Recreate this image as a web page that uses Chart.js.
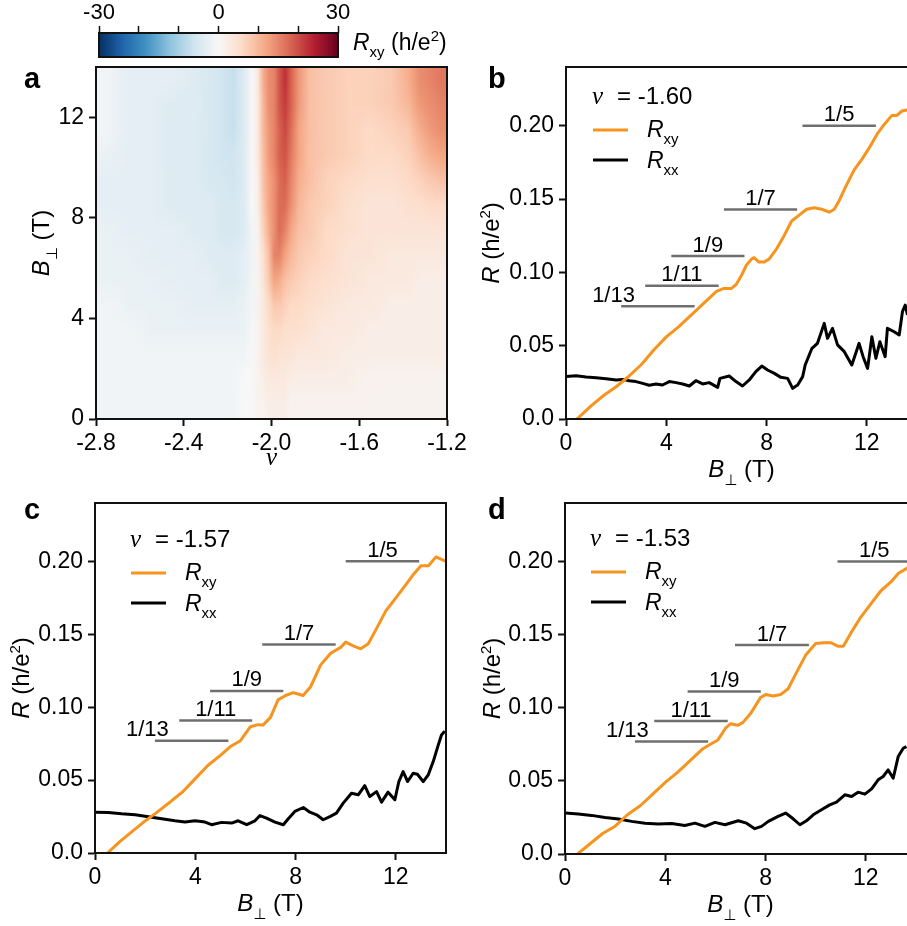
<!DOCTYPE html>
<html>
<head>
    <title>Rxy map and field sweeps</title>
    <script src="https://cdn.jsdelivr.net/npm/chart.js"></script>
    <style>
        html, body { margin: 0; padding: 0; background: #fff; overflow: hidden; width: 907px; height: 926px; }
        canvas { position: absolute; }
    </style>
</head>
<body>
    <canvas id="cbar" width="470" height="66" style="left:0px;top:0px"></canvas>
    <canvas id="mapA" width="475" height="440" style="left:0px;top:47px"></canvas>
    <canvas id="chartB" width="470" height="440" style="left:470px;top:47px"></canvas>
    <canvas id="chartC" width="475" height="443" style="left:0px;top:483px"></canvas>
    <canvas id="chartD" width="470" height="443" style="left:470px;top:483px"></canvas>

    <script>
        // ---- colour bar ----
        const cbarTicks = [-30, -20, -10, 0, 10, 20, 30];
        const cbarLabels = [-30, 0, 30];

        // ---- panel a : Rxy map, rows are B bands (bottom to top), columns are nu bands ----
        const nuEdges = [-2.8, -2.7, -2.6, -2.5, -2.4, -2.3, -2.25, -2.2, -2.15, -2.1, -2.075, -2.05, -2.025, -2.0,
                         -1.975, -1.95, -1.925, -1.9, -1.85, -1.8, -1.7, -1.6, -1.5, -1.4, -1.35, -1.3, -1.25, -1.2];
        const bEdges = [0, 1, 2, 3, 4, 5, 6, 7, 8, 9, 10, 11, 12, 13, 14];
        const rxyMap = [
            [-1,-1,-1,-1,-1,-1,-1,-1, 0, 0, 1, 1, 2, 2, 2, 2, 1, 1, 1, 1, 1, 1, 1, 1, 1, 1, 1],
            [-1,-1,-1,-1,-1,-1,-1,-1, 0, 0, 1, 2, 3, 3, 3, 3, 2, 2, 2, 2, 2, 1, 1, 1, 1, 1, 1],
            [-1,-1,-1,-1,-1,-1,-1,-1,-1, 0, 1, 3, 4, 5, 4, 4, 4, 3, 3, 3, 2, 2, 2, 2, 2, 2, 2],
            [-1,-1,-2,-2,-2,-2,-2,-2,-2, 0, 1, 3, 5, 6, 6, 5, 5, 5, 4, 3, 3, 2, 2, 2, 2, 2, 2],
            [-1,-2,-2,-2,-3,-3,-3,-3,-2,-1, 1, 3, 6, 8, 8, 7, 6, 6, 5, 4, 3, 3, 2, 2, 2, 2, 2],
            [-2,-2,-2,-3,-3,-3,-4,-4,-3,-1, 1, 4, 8,12,11, 9, 8, 7, 6, 5, 4, 3, 3, 3, 2, 2, 2],
            [-2,-2,-3,-3,-3,-4,-4,-4,-3,-1, 1, 5, 9,15,15,12,10, 8, 7, 6, 4, 4, 3, 3, 3, 3, 3],
            [-2,-3,-3,-3,-4,-4,-5,-5,-4,-1, 1, 7,11,14,17,15,12, 9, 8, 6, 5, 4, 4, 4, 4, 4, 4],
            [-3,-3,-3,-4,-4,-4,-5,-5,-4, 0, 2, 8,12,14,17,17,14,10, 8, 7, 5, 4, 4, 5, 5, 6, 6],
            [-3,-3,-3,-4,-4,-5,-5,-6,-4, 0, 2, 9,12,14,17,18,15,11, 9, 7, 6, 5, 5, 6, 7, 8, 9],
            [-2,-3,-3,-4,-4,-5,-6,-6,-4, 0, 3, 9,13,15,18,19,16,12, 9, 8, 7, 6, 6, 7, 9,11,12],
            [-1,-3,-3,-4,-4,-5,-6,-7,-4, 0, 3,10,13,15,18,20,17,12, 9, 8, 7, 6, 7, 8,11,13,14],
            [-1,-3,-3,-4,-4,-5,-6,-7,-4, 0, 3,10,14,15,19,21,18,13, 9, 8, 7, 7, 8,10,13,14,15],
            [-1,-3,-3,-3,-4,-5,-6,-7,-4, 0, 3,11,14,15,19,22,18,13, 9, 8, 7, 7, 8,11,14,15,16]
        ];
        const nuTicks = [-2.8, -2.4, -2.0, -1.6, -1.2];
        const nuTickLabels = ['-2.8', '-2.4', '-2.0', '-1.6', '-1.2'];
        const mapFieldTicks = [0, 4, 8, 12];

        // ---- panels b, c, d : R vs B ----
        const fieldTicks = [0, 4, 8, 12];
        const rTicks = [0, 0.05, 0.10, 0.15, 0.20];
        const rTickLabels = ['0.0', '0.05', '0.10', '0.15', '0.20'];
        const fracLabels = ['1/13', '1/11', '1/9', '1/7', '1/5'];
        const fracLevels = [0.0769, 0.0909, 0.1111, 0.1429, 0.2];

        const bNu = '-1.60';
        const bXyField = [0.3,0.5,1.0,1.5,2.0,2.5,3.0,3.5,4.0,4.5,5.0,5.5,6.0,6.3,6.6,6.8,7.0,7.2,7.4,7.5,7.7,7.9,8.1,8.4,8.7,9.0,9.3,9.6,9.9,10.2,10.5,10.7,10.9,11.2,11.5,11.8,12.1,12.4,12.7,13.0,13.2,13.4,13.7];
        const bXy = [-0.002,0.001,0.009,0.016,0.022,0.029,0.037,0.047,0.056,0.063,0.071,0.079,0.087,0.089,0.089,0.092,0.098,0.105,0.109,0.110,0.107,0.107,0.109,0.116,0.125,0.135,0.139,0.143,0.144,0.143,0.141,0.143,0.149,0.160,0.170,0.177,0.185,0.194,0.201,0.207,0.207,0.210,0.211];
        const bXxField = [0,0.4,0.8,1.2,1.6,2.0,2.26,2.52,2.79,3.06,3.32,3.59,3.85,4.12,4.39,4.65,4.92,5.18,5.45,5.71,6.05,6.14,6.51,6.78,7.04,7.31,7.57,7.81,8.04,8.31,8.57,8.84,9.04,9.24,9.44,9.54,9.81,10.03,10.3,10.43,10.63,10.83,11.1,11.4,11.69,11.85,12.03,12.2,12.36,12.52,12.73,12.82,13.09,13.29,13.42,13.53,13.62];
        const bXx = [0.0289,0.0295,0.0286,0.0282,0.0275,0.0266,0.027,0.0261,0.0255,0.0243,0.023,0.0239,0.0232,0.0255,0.0248,0.0239,0.0225,0.0261,0.0239,0.0248,0.0216,0.0277,0.0293,0.0255,0.0225,0.0266,0.0323,0.0361,0.0334,0.0311,0.0284,0.0277,0.0209,0.0232,0.0289,0.0368,0.0482,0.0516,0.0652,0.055,0.0618,0.0505,0.0459,0.0368,0.0516,0.0425,0.0345,0.0561,0.0414,0.0527,0.0425,0.0618,0.0595,0.0573,0.0732,0.0777,0.0709];
        const bFracFrom = [2.2, 3.16, 4.2, 6.3, 9.43];
        const bFracTo = [5.13, 6.09, 7.12, 9.22, 12.36];

        const cNu = '-1.57';
        const cXyField = [0.3,0.5,1.0,1.5,2.0,2.4,3.0,3.5,4.0,4.5,5.0,5.4,5.8,6.2,6.5,6.7,7.0,7.3,7.6,7.9,8.1,8.3,8.6,9.0,9.4,9.8,10.0,10.3,10.6,10.9,11.2,11.6,12.0,12.4,12.7,13.0,13.3,13.6,14.0];
        const cXy = [-0.002,0.0,0.008,0.015,0.022,0.027,0.035,0.042,0.051,0.060,0.067,0.073,0.077,0.0866,0.088,0.0877,0.093,0.105,0.108,0.110,0.109,0.108,0.114,0.129,0.137,0.141,0.1446,0.142,0.140,0.1435,0.153,0.166,0.175,0.184,0.191,0.197,0.197,0.203,0.200];
        const cXxField = [0,0.53,1.06,1.6,2.13,2.66,3.19,3.59,3.99,4.39,4.65,5.05,5.45,5.71,6.05,6.38,6.58,6.84,7.18,7.51,7.71,7.97,8.31,8.57,8.84,9.1,9.37,9.63,9.9,10.23,10.5,10.76,10.96,11.23,11.43,11.69,11.96,12.12,12.29,12.47,12.69,12.86,13.09,13.29,13.49,13.69,13.82,13.95];
        const cXx = [0.028,0.0278,0.0269,0.0262,0.0248,0.0235,0.0221,0.0212,0.0221,0.0212,0.0194,0.021,0.0205,0.0221,0.0194,0.0221,0.0257,0.0239,0.0212,0.0194,0.0235,0.0285,0.0312,0.028,0.0262,0.0228,0.025,0.0273,0.0342,0.041,0.0399,0.0462,0.0387,0.0421,0.0349,0.0417,0.0365,0.049,0.0558,0.049,0.0547,0.054,0.049,0.0535,0.0627,0.074,0.0809,0.0836];
        const cFracFrom = [2.39, 3.36, 4.59, 6.67, 10.0];
        const cFracTo = [5.32, 6.27, 7.51, 9.6, 12.93];

        const dNu = '-1.53';
        const dXyField = [0.3,0.5,1.0,1.5,2.0,2.5,3.0,3.5,4.0,4.5,5.0,5.5,5.8,6.1,6.4,6.6,6.9,7.1,7.4,7.8,8.0,8.3,8.6,8.9,9.2,9.6,10.0,10.3,10.6,10.9,11.1,11.4,11.8,12.2,12.6,13.0,13.3,13.7];
        const dXy = [-0.002,0.0,0.007,0.014,0.019,0.027,0.033,0.041,0.049,0.056,0.064,0.072,0.075,0.078,0.086,0.089,0.088,0.090,0.096,0.107,0.109,0.108,0.109,0.113,0.123,0.136,0.144,0.1445,0.1445,0.142,0.142,0.151,0.162,0.171,0.180,0.186,0.192,0.196];
        const dXxField = [0,0.53,1.06,1.6,2.13,2.66,3.19,3.72,4.25,4.78,5.18,5.58,5.98,6.38,6.91,7.24,7.57,7.84,8.11,8.5,8.8,9.1,9.37,9.63,9.9,10.23,10.56,10.83,11.16,11.43,11.69,11.96,12.23,12.49,12.69,12.89,13.09,13.29,13.49,13.62];
        const dXx = [0.028,0.0273,0.0264,0.025,0.0239,0.0223,0.0211,0.0205,0.0209,0.0195,0.0211,0.0189,0.0216,0.02,0.0227,0.0211,0.0173,0.0189,0.0223,0.0257,0.028,0.0241,0.02,0.0227,0.0268,0.0302,0.0336,0.0355,0.0405,0.0393,0.0423,0.0409,0.0445,0.0507,0.053,0.0575,0.0518,0.0666,0.0723,0.0734];
        const dFracFrom = [2.79, 3.56, 4.89, 6.78, 10.87];
        const dFracTo = [5.71, 6.49, 7.81, 9.73, 13.8];

        // ---- helpers ----
        const SANS = '"Liberation Sans", Arial, "DejaVu Sans", sans-serif';
        const SERIF = '"Liberation Serif", "DejaVu Serif", serif';
        const ORANGE = '#f7941e';
        const GREY = '#6f6f6f';
        const INK = '#111';

        Chart.defaults.font.family = SANS;
        Chart.defaults.font.size = 23;
        Chart.defaults.color = '#000';

        const rdbu = [[5,48,97],[33,102,172],[67,147,195],[146,197,222],[209,229,240],[247,247,247],
                      [253,219,199],[244,165,130],[214,96,77],[178,24,43],[103,0,31]];
        function rxyColor(v) {
            let t = Math.max(0, Math.min(10, (v + 30) / 60 * 10));
            const i = Math.min(9, Math.floor(t)), f = t - i;
            const c = rdbu[i].map((a, k) => Math.round(a + (rdbu[i + 1][k] - a) * f));
            return `rgb(${c[0]},${c[1]},${c[2]})`;
        }

        function fontOf(p, size) {
            const s = (p.sub || p.sup) ? Math.round(size * 0.64) : size;
            return (p.i ? 'italic ' : '') + s + 'px ' + (p.serif ? SERIF : SANS);
        }
        // draw text made of parts (italic / subscript / superscript)
        function drawRich(ctx, parts, x, y, size, align) {
            let w = 0;
            parts.forEach(p => { ctx.font = fontOf(p, size); w += ctx.measureText(p.t).width; });
            let cx = align === 'center' ? x - w / 2 : align === 'right' ? x - w : x;
            ctx.textAlign = 'left';
            ctx.textBaseline = 'alphabetic';
            parts.forEach(p => {
                ctx.font = fontOf(p, size);
                const dy = p.sub ? size * 0.32 : p.sup ? -size * 0.38 : 0;
                ctx.fillText(p.t, cx, y + dy);
                cx += ctx.measureText(p.t).width;
            });
        }
        const B_TITLE = [{t: 'B', i: true}, {t: '\u22A5', sub: true}, {t: ' (T)'}];
        const R_TITLE = [{t: 'R', i: true}, {t: ' (h/e'}, {t: '2', sup: true}, {t: ')'}];

        function pts(xs, ys) { return xs.map((x, i) => ({x: x, y: ys[i]})); }

        function xAxis(min, max, ticks, labels, height, position, pad) {
            return {
                type: 'linear', position: position || 'bottom', min: min, max: max,
                afterBuildTicks: s => { s.ticks = ticks.map(v => ({value: v})); },
                afterFit: s => { s.height = height; },
                ticks: { callback: (v, i) => labels[i], padding: pad === undefined ? 4 : pad, autoSkip: false, maxRotation: 0, color: '#000' },
                grid: { display: true, drawOnChartArea: false, drawTicks: true, tickLength: 7, tickWidth: 2, tickColor: INK },
                border: { display: true, color: INK, width: 2 }
            };
        }
        function yAxis(min, max, ticks, labels, width) {
            return {
                type: 'linear', min: min, max: max,
                afterBuildTicks: s => { s.ticks = ticks.map(v => ({value: v})); },
                afterFit: s => { s.width = width; },
                ticks: { callback: (v, i) => labels[i], padding: 5, autoSkip: false, color: '#000' },
                grid: { display: true, drawOnChartArea: false, drawTicks: true, tickLength: 7, tickWidth: 2, tickColor: INK },
                border: { display: true, color: INK, width: 2 }
            };
        }
        const baseOptions = {
            responsive: false, animation: false, events: [],
            plugins: { legend: { display: false }, tooltip: { enabled: false } }
        };

        function frame(ctx, a) {
            ctx.strokeStyle = INK;
            ctx.lineWidth = 2;
            ctx.strokeRect(a.left, a.top, a.right - a.left, a.bottom - a.top);
        }
        function panelLetter(ctx, letter, x, y) {
            ctx.fillStyle = '#000';
            ctx.font = 'bold 29px ' + SANS;
            ctx.textAlign = 'left';
            ctx.textBaseline = 'alphabetic';
            ctx.fillText(letter, x, y);
        }

        // ---- colour bar ----
        const cbarX = xAxis(-30, 30, cbarTicks, cbarTicks.map(v => cbarLabels.includes(v) ? String(v) : ''), 33, 'top', 0);
        cbarX.border = { display: false };
        cbarX.ticks.font = { size: 22 };
        cbarX.grid.tickWidth = 1.5;
        new Chart(document.getElementById('cbar'), {
            type: 'scatter',
            data: { datasets: [{ data: [] }] },
            options: Object.assign({}, baseOptions, {
                layout: { padding: { left: 99, right: 132, top: 0, bottom: 9 } },
                scales: { x: cbarX, y: { display: false, min: 0, max: 1 } }
            }),
            plugins: [{
                id: 'cbarFill',
                beforeDatasetsDraw(chart) {
                    const {ctx, chartArea: a, scales: {x}} = chart;
                    ctx.save();
                    for (let v = -30; v < 30; v += 0.25) {
                        const x0 = x.getPixelForValue(v), x1 = x.getPixelForValue(v + 0.25);
                        ctx.fillStyle = rxyColor(v + 0.125);
                        ctx.fillRect(x0, a.top, x1 - x0 + 0.6, a.bottom - a.top);
                    }
                    frame(ctx, a);
                    ctx.fillStyle = '#000';
                    drawRich(ctx, [{t: 'R', i: true}, {t: 'xy', sub: true}, {t: ' (h/e'}, {t: '2', sup: true}, {t: ')'}], 353, 50, 23, 'left');
                    ctx.restore();
                }
            }]
        });

        // ---- panel a ----
        new Chart(document.getElementById('mapA'), {
            type: 'scatter',
            data: { datasets: [{ data: [] }] },
            options: Object.assign({}, baseOptions, {
                layout: { padding: { left: 0, right: 28, top: 20, bottom: 0 } },
                scales: {
                    x: xAxis(-2.8, -1.2, nuTicks, nuTickLabels, 68),
                    y: yAxis(0, 14, mapFieldTicks, mapFieldTicks.map(String), 96)
                }
            }),
            plugins: [{
                id: 'heat',
                beforeDatasetsDraw(chart) {
                    const {ctx, chartArea: a, scales: {x, y}} = chart;
                    const w = Math.round(a.right - a.left), rows = rxyMap.length;
                    // one pixel row per B band, colour stops at the nu band centres
                    const off = document.createElement('canvas');
                    off.width = w; off.height = rows;
                    const octx = off.getContext('2d');
                    for (let r = 0; r < rows; r++) {
                        const g = octx.createLinearGradient(0, 0, w, 0);
                        for (let c = 0; c < nuEdges.length - 1; c++) {
                            const px = x.getPixelForValue((nuEdges[c] + nuEdges[c + 1]) / 2) - a.left;
                            g.addColorStop(Math.max(0, Math.min(1, px / w)), rxyColor(rxyMap[r][c]));
                        }
                        octx.fillStyle = g;
                        octx.fillRect(0, rows - 1 - r, w, 1);
                    }
                    const yTop = y.getPixelForValue(bEdges[bEdges.length - 1]);
                    const yBot = y.getPixelForValue(bEdges[0]);
                    ctx.save();
                    ctx.imageSmoothingEnabled = true;
                    ctx.imageSmoothingQuality = 'high';
                    ctx.drawImage(off, a.left, yTop, w, yBot - yTop);
                    ctx.restore();
                },
                afterDraw(chart) {
                    const {ctx, chartArea: a} = chart;
                    ctx.save();
                    frame(ctx, a);
                    ctx.fillStyle = '#000';
                    ctx.font = 'italic 25px ' + SERIF;
                    ctx.textAlign = 'center';
                    ctx.textBaseline = 'alphabetic';
                    ctx.fillText('\u03BD', (a.left + a.right) / 2, a.bottom + 46);
                    ctx.translate(49, (a.top + a.bottom) / 2);
                    ctx.rotate(-Math.PI / 2);
                    drawRich(ctx, B_TITLE, 0, 0, 24, 'center');
                    ctx.setTransform(1, 0, 0, 1, 0, 0);
                    panelLetter(ctx, 'a', 24, 41);
                    ctx.restore();
                }
            }]
        });

        // ---- panels b, c, d ----
        function linePanel(id, p) {
            const datasets = [
                { data: pts(p.xyField, p.xy), borderColor: ORANGE, borderWidth: 3 },
                { data: pts(p.xxField, p.xx), borderColor: '#000', borderWidth: 3 }
            ];
            fracLevels.forEach((lv, i) => {
                datasets.push({ data: [{x: p.fracFrom[i], y: lv}, {x: p.fracTo[i], y: lv}], borderColor: GREY, borderWidth: 2.5 });
            });
            new Chart(document.getElementById(id), {
                type: 'line',
                data: { datasets: datasets },
                options: Object.assign({}, baseOptions, {
                    layout: { padding: { left: 0, right: p.padRight, top: 20, bottom: 0 } },
                    elements: { point: { radius: 0 }, line: { tension: 0, fill: false, borderJoinStyle: 'round' } },
                    scales: {
                        x: xAxis(0, 14, fieldTicks, fieldTicks.map(String), p.xHeight),
                        y: yAxis(0, 0.24, rTicks, rTickLabels, p.yWidth)
                    }
                }),
                plugins: [{
                    id: 'decor',
                    afterDraw(chart) {
                        const {ctx, chartArea: a, scales: {x, y}} = chart;
                        ctx.save();
                        frame(ctx, a);
                        ctx.fillStyle = '#000';
                        // fraction labels
                        ctx.font = '22px ' + SANS;
                        ctx.textBaseline = 'alphabetic';
                        fracLabels.forEach((lab, i) => {
                            const yy = y.getPixelForValue(fracLevels[i]) - 4.5;
                            if (i === 0) {
                                ctx.textAlign = 'right';
                                ctx.fillText(lab, x.getPixelForValue(p.fracFrom[i] + 0.55), yy);
                            } else {
                                ctx.textAlign = 'center';
                                ctx.fillText(lab, x.getPixelForValue((p.fracFrom[i] + p.fracTo[i]) / 2), yy);
                            }
                        });
                        // legend block
                        const lx = a.left + p.legend[0], ly = a.top + p.legend[1];
                        ctx.textAlign = 'left';
                        ctx.font = 'italic 25px ' + SERIF;
                        ctx.fillText('\u03BD', lx, ly);
                        ctx.font = '24px ' + SANS;
                        ctx.fillText('= ' + p.nu, lx + 25, ly);
                        ctx.lineWidth = 3;
                        ctx.strokeStyle = ORANGE;
                        ctx.beginPath(); ctx.moveTo(lx + 1, ly + 26); ctx.lineTo(lx + 36, ly + 26); ctx.stroke();
                        ctx.strokeStyle = '#000';
                        ctx.beginPath(); ctx.moveTo(lx + 1, ly + 56); ctx.lineTo(lx + 36, ly + 56); ctx.stroke();
                        drawRich(ctx, [{t: 'R', i: true}, {t: 'xy', sub: true}], lx + 55, ly + 33, 23, 'left');
                        drawRich(ctx, [{t: 'R', i: true}, {t: 'xx', sub: true}], lx + 55, ly + 64, 23, 'left');
                        // axis titles
                        drawRich(ctx, B_TITLE, (a.left + a.right) / 2, a.bottom + 58, 24, 'center');
                        ctx.translate(p.yTitleX, (a.top + a.bottom) / 2);
                        ctx.rotate(-Math.PI / 2);
                        drawRich(ctx, R_TITLE, 0, 0, 24, 'center');
                        ctx.setTransform(1, 0, 0, 1, 0, 0);
                        panelLetter(ctx, p.letter, p.letterPos[0], p.letterPos[1]);
                        ctx.restore();
                    }
                }]
            });
        }

        linePanel('chartB', {
            xyField: bXyField, xy: bXy, xxField: bXxField, xx: bXx, fracFrom: bFracFrom, fracTo: bFracTo, nu: bNu,
            padRight: 23, xHeight: 68, yWidth: 96, legend: [26, 37], yTitleX: 29, letter: 'b', letterPos: [18, 41]
        });
        linePanel('chartC', {
            xyField: cXyField, xy: cXy, xxField: cXxField, xx: cXx, fracFrom: cFracFrom, fracTo: cFracTo, nu: cNu,
            padRight: 29, xHeight: 73, yWidth: 95, legend: [35, 44], yTitleX: 29, letter: 'c', letterPos: [24, 36]
        });
        linePanel('chartD', {
            xyField: dXyField, xy: dXy, xxField: dXxField, xx: dXx, fracFrom: dFracFrom, fracTo: dFracTo, nu: dNu,
            padRight: 24, xHeight: 72, yWidth: 95, legend: [25, 43], yTitleX: 30, letter: 'd', letterPos: [18, 36]
        });
    </script>
</body>
</html>
